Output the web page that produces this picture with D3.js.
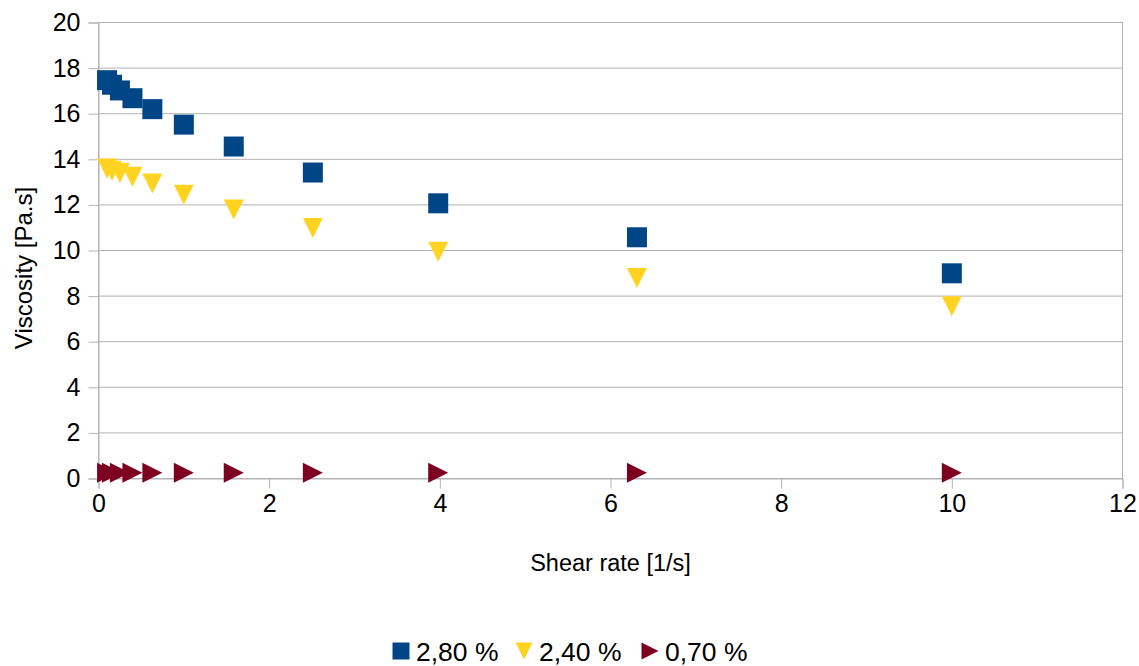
<!DOCTYPE html>
<html>
<head>
<meta charset="utf-8">
<script src="https://cdn.jsdelivr.net/npm/d3@7"></script>
<style>
  body { margin: 0; background: #fff; }
  text { font-family: "Liberation Sans", Arial, sans-serif; fill: #000; }
</style>
</head>
<body>
<svg width="1139" height="666"></svg>
<script>
// shear rate values (log spaced)
var shearRate = [0.1, 0.158, 0.251, 0.398, 0.631, 1, 1.585, 2.512, 3.981, 6.31, 10];
// viscosity for each concentration
var visc280 = [17.47, 17.27, 17.02, 16.68, 16.2, 15.52, 14.56, 13.42, 12.07, 10.58, 9.0];
var visc240 = [13.6, 13.5, 13.4, 13.23, 12.94, 12.45, 11.8, 10.99, 9.95, 8.79, 7.56];
var visc070 = [0.25, 0.25, 0.25, 0.25, 0.25, 0.25, 0.25, 0.25, 0.25, 0.25, 0.25];

var xTicks = [0, 2, 4, 6, 8, 10, 12];
var yTicks = [0, 2, 4, 6, 8, 10, 12, 14, 16, 18, 20];
var seriesNames = ["2,80 %", "2,40 %", "0,70 %"];
var seriesColors = ["#004586", "#ffd320", "#7e0021"];
var seriesShapes = ["square", "down", "right"];

var svg = d3.select("svg");

var x = d3.scaleLinear().domain([0, 12]).range([98.5, 1122.5]);
var y = d3.scaleLinear().domain([0, 20]).range([478.5, 22.5]);

// shape path centred on 0,0 with half size s
function shape(type, s) {
    if (type == "square") return "M" + (-s) + "," + (-s) + "h" + (2 * s) + "v" + (2 * s) + "h" + (-2 * s) + "Z";
    if (type == "down") return "M" + (-s) + "," + (-s) + "L" + s + "," + (-s) + "L0," + s + "Z";
    return "M" + (-s) + "," + (-s) + "L" + s + ",0L" + (-s) + "," + s + "Z";
}

// horizontal grid
svg.append("g").selectAll("line")
    .data(yTicks)
    .enter().append("line")
    .attr("x1", x(0)).attr("x2", x(12))
    .attr("y1", function(d) { return y(d); })
    .attr("y2", function(d) { return y(d); })
    .attr("stroke", "#b3b3b3").attr("stroke-width", 1);

// wall border
svg.append("rect")
    .attr("x", x(0)).attr("y", y(20))
    .attr("width", x(12) - x(0)).attr("height", y(0) - y(20))
    .attr("fill", "none").attr("stroke", "#b3b3b3");

// axes
var yAxis = svg.append("g")
    .attr("transform", "translate(" + x(0) + ",0)")
    .call(d3.axisLeft(y).tickValues(yTicks).tickSize(10).tickPadding(8));
var xAxis = svg.append("g")
    .attr("transform", "translate(0," + y(0) + ")")
    .call(d3.axisBottom(x).tickValues(xTicks).tickSize(10).tickPadding(6));

[xAxis, yAxis].forEach(function(a) {
    a.select(".domain").attr("stroke", "#b3b3b3");
    a.selectAll(".tick line").attr("stroke", "#b3b3b3");
    a.selectAll(".tick text").attr("font-size", 25).attr("fill", "#000")
        .attr("font-family", "Liberation Sans, Arial, sans-serif");
});

// axis titles
svg.append("text")
    .attr("x", x(6)).attr("y", 571)
    .attr("text-anchor", "middle").attr("font-size", 23.5)
    .text("Shear rate [1/s]");
svg.append("text")
    .attr("transform", "translate(32,268) rotate(-90)")
    .attr("text-anchor", "middle").attr("font-size", 24)
    .text("Viscosity [Pa.s]");

// points
var allSeries = [visc280, visc240, visc070];
allSeries.forEach(function(vals, i) {
    svg.append("g").selectAll("path")
        .data(vals)
        .enter().append("path")
        .attr("d", shape(seriesShapes[i], 10))
        .attr("transform", function(d, j) {
            return "translate(" + x(shearRate[j]) + "," + y(d) + ")";
        })
        .attr("fill", seriesColors[i]);
});

// legend
var legendX = [401, 524, 650];
var legend = svg.append("g").selectAll("g")
    .data(seriesNames)
    .enter().append("g")
    .attr("transform", function(d, i) { return "translate(" + legendX[i] + ",651)"; });
legend.append("path")
    .attr("d", function(d, i) { return shape(seriesShapes[i], 8.5); })
    .attr("fill", function(d, i) { return seriesColors[i]; });
legend.append("text")
    .attr("x", 15).attr("y", 9.5)
    .attr("font-size", 26.5)
    .text(function(d) { return d; });
</script>
</body>
</html>
